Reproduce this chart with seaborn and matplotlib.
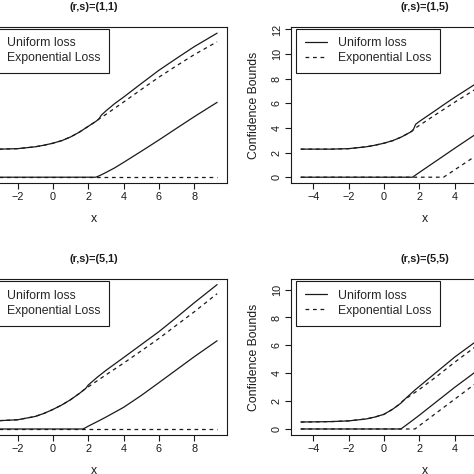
import matplotlib
matplotlib.use("Agg")
import matplotlib.pyplot as plt
import seaborn as sns
import pandas as pd

# (r,s)=(1,1)
x_11 = [-4.7, -4, -3, -2, -1, -0.5, 0, 0.5, 1, 1.5, 2, 2.43, 2.6, 2.75, 3, 3.5, 4, 5, 6, 7, 8, 9.3]
uni_up_11 = [2.28, 2.28, 2.28, 2.32, 2.47, 2.6, 2.76, 2.97, 3.27, 3.66, 4.13, 4.53, 4.72, 5.05, 5.38, 5.98, 6.5, 7.6, 8.68, 9.65, 10.6, 11.7]
exp_up_11 = [2.28, 2.28, 2.28, 2.32, 2.47, 2.6, 2.76, 2.97, 3.27, 3.66, 4.13, 4.53, 4.72, 4.86, 5.1, 5.6, 6.1, 7.12, 8.12, 9.05, 9.95, 11.0]
uni_lo_11 = [0, 0, 0, 0, 0, 0, 0, 0, 0, 0, 0, 0, 0.1, 0.2, 0.38, 0.76, 1.2, 2.1, 3.02, 3.97, 4.91, 6.08]
exp_lo_11 = [0, 0, 0, 0, 0, 0, 0, 0, 0, 0, 0, 0, 0, 0, 0, 0, 0, 0, 0, 0, 0, 0]

# (r,s)=(1,5)
x_15 = [-4.7, -4, -3, -2, -1, -0.5, 0, 0.5, 1, 1.5, 1.62, 1.68, 1.8, 2, 3, 3.38, 4, 5, 6, 7, 8, 9.3]
uni_up_15 = [2.28, 2.28, 2.28, 2.32, 2.47, 2.6, 2.76, 2.97, 3.27, 3.66, 3.78, 3.9, 4.3, 4.52, 5.5, 5.88, 6.48, 7.4, 8.3, 9.2, 10.1, 11.3]
exp_up_15 = [2.28, 2.28, 2.28, 2.32, 2.47, 2.6, 2.76, 2.97, 3.27, 3.66, 3.78, 3.9, 4.0, 4.2, 5.15, 5.5, 6.08, 6.98, 7.9, 8.8, 9.7, 10.9]
uni_lo_15 = [0, 0, 0, 0, 0, 0, 0, 0, 0, 0, 0, 0.06, 0.18, 0.38, 1.36, 1.73, 2.34, 3.3, 4.25, 5.2, 6.1, 7.3]
exp_lo_15 = [0, 0, 0, 0, 0, 0, 0, 0, 0, 0, 0, 0, 0, 0, 0, 0, 0.59, 1.54, 2.5, 3.45, 4.4, 5.6]

# (r,s)=(5,1)
x_51 = [-4.7, -4, -3, -2, -1, -0.5, 0, 0.5, 1, 1.5, 1.7, 1.86, 2.0, 2.5, 3, 4, 5, 6, 7, 8, 9.3]
uni_up_51 = [0.57, 0.58, 0.6, 0.66, 0.9, 1.12, 1.4, 1.72, 2.1, 2.55, 2.75, 2.91, 3.15, 3.7, 4.2, 5.12, 6.05, 6.98, 8.0, 9.05, 10.36]
exp_up_51 = [0.57, 0.58, 0.6, 0.66, 0.9, 1.12, 1.4, 1.72, 2.1, 2.55, 2.75, 2.91, 3.02, 3.45, 3.88, 4.72, 5.6, 6.49, 7.45, 8.4, 9.71]
uni_lo_51 = [0, 0, 0, 0, 0, 0, 0, 0, 0, 0, 0, 0.1, 0.2, 0.52, 0.85, 1.55, 2.4, 3.32, 4.25, 5.18, 6.33]
exp_lo_51 = [0, 0, 0, 0, 0, 0, 0, 0, 0, 0, 0, 0, 0, 0, 0, 0, 0, 0, 0, 0, 0]

# (r,s)=(5,5)
x_55 = [-4.7, -4, -3, -2, -1, -0.5, 0, 0.5, 0.96, 1.05, 1.5, 1.76, 2, 3, 4, 5, 6, 7, 8, 9.3]
uni_up_55 = [0.5, 0.51, 0.53, 0.58, 0.72, 0.86, 1.05, 1.42, 1.85, 1.98, 2.5, 2.8, 3.05, 4.1, 5.15, 6.08, 7.0, 7.95, 8.9, 10.2]
exp_up_55 = [0.5, 0.51, 0.53, 0.58, 0.72, 0.86, 1.05, 1.42, 1.85, 1.98, 2.4, 2.62, 2.83, 3.78, 4.78, 5.73, 6.65, 7.6, 8.55, 9.8]
uni_lo_55 = [0, 0, 0, 0, 0, 0, 0, 0, 0, 0.08, 0.5, 0.75, 0.98, 1.98, 2.98, 3.92, 4.9, 5.85, 6.8, 8.1]
exp_lo_55 = [0, 0, 0, 0, 0, 0, 0, 0, 0, 0, 0, 0, 0.23, 1.18, 2.13, 3.08, 4.0, 4.95, 5.9, 7.1]

x_ticks = [-4, -2, 0, 2, 4, 6, 8]
LOSSES = ["Uniform loss", "Exponential Loss"]
INK = "#1a1a1a"
W = H = 474.0


def draw_panel(ax, x, uni_up, exp_up, uni_lo, exp_lo, title, ylim, yticks):
    n = len(x)
    df = pd.DataFrame({
        "x": x * 4,
        "value": uni_up + uni_lo + exp_up + exp_lo,
        "loss": [LOSSES[0]] * (2 * n) + [LOSSES[1]] * (2 * n),
        "bound": (["upper"] * n + ["lower"] * n) * 2,
    })
    sns.lineplot(data=df, x="x", y="value", style="loss", units="bound",
                 estimator=None, style_order=LOSSES, color=INK, linewidth=0.9,
                 dashes={LOSSES[0]: "", LOSSES[1]: (3, 3)}, ax=ax)
    ax.set_xlim(-5.26, 9.86)
    ax.set_ylim(*ylim)
    ax.set_xticks(x_ticks)
    ax.set_yticks(yticks)
    ax.tick_params(axis="both", direction="out", length=4, width=0.8,
                   color=INK, labelsize=7.8, pad=2.5, labelcolor=INK)
    for lab in ax.get_yticklabels():
        lab.set_rotation(90)
        lab.set_va("center")
    for sp in ax.spines.values():
        sp.set_visible(True)
        sp.set_color(INK)
        sp.set_linewidth(0.8)
    ax.set_xlabel("x", fontsize=8.8, color=INK)
    ax.set_ylabel("Confidence Bounds", fontsize=8.8, color=INK)
    ax.xaxis.set_label_coords(0.5, -36 / 156)
    ax.yaxis.set_label_coords(-37 / 267, 0.5)
    ax.xaxis.label.set_va("center")
    ax.yaxis.label.set_va("center")
    ax.annotate(title, xy=(0.5, 1), xycoords="axes fraction", xytext=(0, 14.5),
                textcoords="offset points", ha="center", va="center",
                fontsize=7.8, fontweight="bold", color=INK)
    handles, labels = ax.get_legend_handles_labels()
    leg = ax.legend(handles, labels, loc="upper left", bbox_to_anchor=(5 / 267, 1 - 1.6 / 156),
                    borderaxespad=0, fontsize=8.8, frameon=True, fancybox=False,
                    framealpha=1, edgecolor=INK, borderpad=0.72, handlelength=1.8,
                    handletextpad=0.9, labelspacing=0.25)
    leg.get_frame().set_linewidth(0.8)


sns.set_theme(style="ticks")
plt.rcParams["font.family"] = ["Liberation Sans", "DejaVu Sans"]

fig = plt.figure(figsize=(W / 100, H / 100), dpi=100)
ax11 = fig.add_axes([-40 / W, 1 - 183 / H, 267 / W, 156 / H])
ax15 = fig.add_axes([291 / W, 1 - 183 / H, 267 / W, 156 / H])
ax51 = fig.add_axes([-40 / W, 1 - 434.7 / H, 267 / W, 155.4 / H])
ax55 = fig.add_axes([291 / W, 1 - 434.7 / H, 267 / W, 155.4 / H])

draw_panel(ax11, x_11, uni_up_11, exp_up_11, uni_lo_11, exp_lo_11, "(r,s)=(1,1)", (-0.47, 12.2), range(0, 13, 2))
draw_panel(ax15, x_15, uni_up_15, exp_up_15, uni_lo_15, exp_lo_15, "(r,s)=(1,5)", (-0.47, 12.2), range(0, 13, 2))
draw_panel(ax51, x_51, uni_up_51, exp_up_51, uni_lo_51, exp_lo_51, "(r,s)=(5,1)", (-0.41, 10.74), range(0, 11, 2))
draw_panel(ax55, x_55, uni_up_55, exp_up_55, uni_lo_55, exp_lo_55, "(r,s)=(5,5)", (-0.41, 10.74), range(0, 11, 2))

fig.savefig("out.png", dpi=100)
